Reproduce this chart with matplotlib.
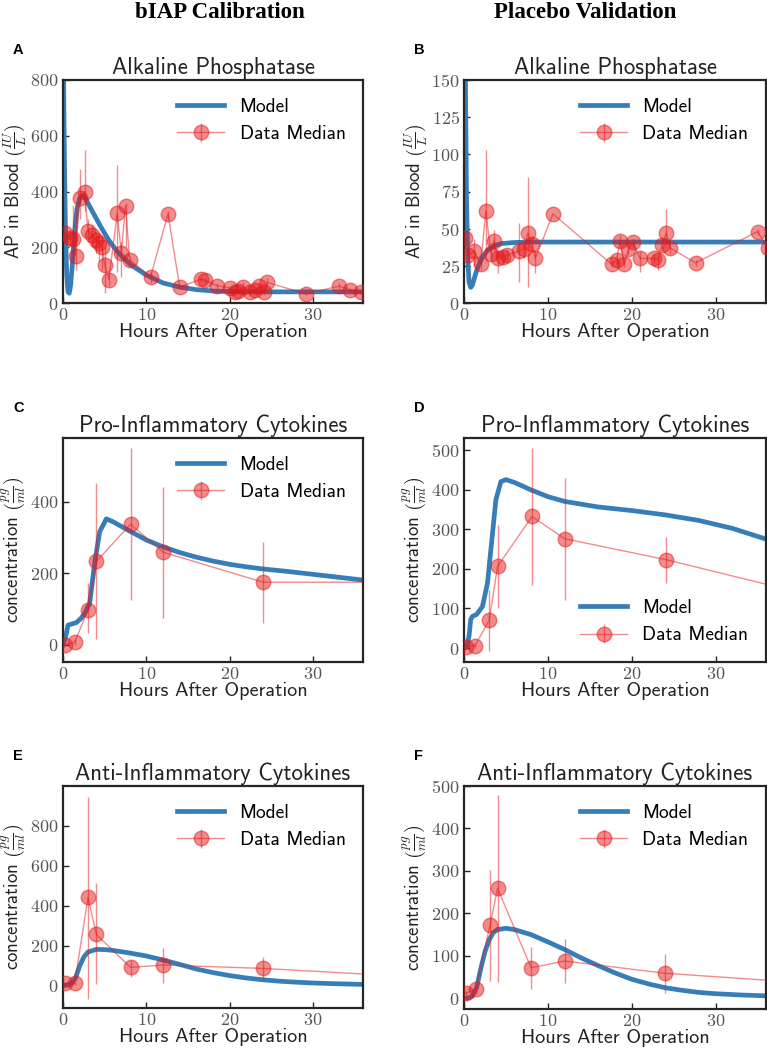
import numpy as np
import matplotlib
matplotlib.use('Agg')
import matplotlib.pyplot as plt

plt.rcParams['font.family'] = 'cmr10'
plt.rcParams['mathtext.fontset'] = 'cm'
plt.rcParams['axes.formatter.use_mathtext'] = True
plt.rcParams['axes.unicode_minus'] = False

BLUE = '#377eb8'
RED = '#e41a1c'
SANS = 'cmss10'

# ---- A: AP, bIAP calibration ----
a_t = [0.2, 0.8, 1.2, 1.5, 2.0, 2.6, 3.0, 3.5, 4.0, 4.3, 4.7, 5.0, 5.5, 6.5, 7.0, 7.5, 8.0,
       10.5, 12.6, 14.0, 16.6, 17.0, 18.5, 20.0, 20.6, 21.0, 21.6, 22.5, 23.1, 23.5, 24.1,
       24.5, 29.1, 33.1, 34.5, 35.7]
a_med = [250, 233, 228, 170, 376, 400, 259, 245, 227, 215, 200, 137, 84, 322, 179, 349, 155,
         93, 320, 57, 86, 81, 62, 54, 38, 42, 57, 38, 45, 60, 38, 74, 33, 60, 48, 38]
a_lo = [250, 205, 160, 120, 300, 330, 220, 200, 180, 150, 120, 35, 60, 110, 95, 200, 140,
        70, 300, 50, 75, 70, 50, 45, 30, 35, 40, 30, 35, 50, 30, 60, 28, 50, 40, 32]
a_hi = [250, 260, 350, 350, 480, 550, 300, 280, 260, 250, 240, 200, 110, 495, 220, 360, 170,
        110, 330, 65, 95, 90, 70, 60, 45, 50, 75, 45, 55, 70, 45, 90, 40, 70, 55, 45]
a_mt = [0, 0.1, 0.2, 0.3, 0.45, 0.6, 0.75, 0.9, 1.1, 1.3, 1.5, 1.7, 2.0, 2.3, 2.7, 3.5, 4.5,
        5.5, 6.5, 8, 10, 12, 14, 16, 18, 20, 25, 30, 36]
a_my = [1100, 700, 450, 250, 100, 40, 35, 60, 130, 220, 290, 340, 375, 385, 375, 330, 275,
        225, 185, 140, 100, 72, 57, 48, 43, 41, 40, 40, 40]

# ---- B: AP, placebo validation ----
b_t = [0.1, 0.5, 1.2, 2.0, 2.6, 3.2, 3.6, 4.0, 4.6, 5.1, 6.6, 7.1, 7.6, 8.1, 8.5, 10.6,
       17.6, 18.2, 18.6, 19.1, 19.6, 20.1, 21.0, 22.6, 23.1, 23.6, 24.1, 24.6, 27.6, 35.0, 36.2]
b_med = [44, 32, 35, 26, 62, 33, 42, 30, 31, 32, 35, 36, 47, 40, 30, 60,
         26, 29, 42, 26, 36, 41, 30, 30, 29, 39, 47, 37, 27, 48, 37]
b_lo = [44, 28, 25, 22, 30, 28, 35, 20, 27, 28, 14, 30, 11, 35, 20, 60,
        24, 26, 38, 24, 32, 38, 21, 27, 22, 35, 40, 33, 25, 46, 35]
b_hi = [44, 36, 43, 30, 103, 38, 49, 35, 35, 36, 54, 42, 85, 45, 35, 60,
        28, 32, 46, 28, 40, 44, 35, 33, 32, 43, 63, 41, 29, 50, 39]
b_mt = [0, 0.1, 0.2, 0.3, 0.45, 0.6, 0.8, 1.0, 1.3, 1.7, 2.2, 2.8, 3.5, 4.5, 6, 8, 20, 36]
b_my = [400, 200, 130, 70, 30, 14, 10.5, 12, 18, 25, 31, 35.5, 38.5, 40, 40.7, 41, 41, 41]

# ---- C: pro-inflammatory, calibration ----
c_t = [0.2, 1.4, 3.0, 4.0, 8.1, 12.0, 24.0, 48.0]
c_med = [0, 7, 98, 233, 337, 259, 175, 175]
c_lo = [0, 0, 33, 16, 126, 76, 62, 175]
c_hi = [0, 15, 172, 451, 549, 442, 288, 175]
c_mt = [0, 0.3, 0.6, 1.0, 1.6, 2.2, 2.6, 3.2, 3.8, 4.4, 5.2, 6.0, 8, 10, 12, 14, 16, 18, 20,
        22, 24, 27, 30, 33, 36]
c_my = [0, 20, 55, 58, 62, 75, 88, 116, 228, 316, 352, 344, 318, 293, 274, 258, 245, 234, 225,
        218, 212, 205, 197, 189, 181]

# ---- D: pro-inflammatory, validation ----
d_t = [0.2, 1.3, 3.0, 4.0, 8.1, 12.0, 24.1, 48.0]
d_med = [4, 6, 70, 206, 332, 276, 223, 99]
d_lo = [0, 0, -8, 101, 160, 122, 164, 99]
d_hi = [8, 12, 147, 311, 504, 429, 280, 99]
d_mt = [0, 0.3, 0.6, 0.8, 1.0, 1.5, 2.2, 2.8, 3.2, 3.8, 4.4, 5.0, 6, 8, 10, 12, 16, 20, 24, 28,
        32, 36]
d_my = [0, 2, 30, 72, 80, 85, 105, 164, 248, 374, 420, 425, 418, 399, 382, 370, 356, 347, 336,
        322, 302, 275]

# ---- E: anti-inflammatory, calibration ----
e_t = [0.2, 1.4, 3.0, 4.0, 8.1, 12.0, 24.0, 48.0]
e_med = [13, 13, 443, 258, 93, 105, 88, 32]
e_lo = [5, 5, -65, 10, 47, 17, 30, 32]
e_hi = [20, 20, 947, 513, 130, 188, 143, 32]
e_mt = [0, 0.5, 1.0, 1.5, 2.0, 2.5, 3, 4, 5, 6, 8, 10, 12, 14, 16, 18, 20, 22, 24, 26, 28, 30,
        33, 36]
e_my = [0, 5, 12, 40, 100, 145, 170, 183, 182, 178, 165, 150, 130, 108, 85, 67, 52, 40, 31, 24,
        19, 15, 11, 8]

# ---- F: anti-inflammatory, validation ----
f_t = [0.2, 1.4, 3.1, 4.0, 8.0, 12.0, 24.0, 48.0]
f_med = [12, 21, 172, 259, 72, 88, 59, 27]
f_lo = [5, 10, 41, 39, 21, 37, 13, 27]
f_hi = [18, 30, 303, 478, 122, 139, 104, 27]
f_mt = [0, 0.5, 1.0, 1.5, 2.0, 2.5, 3, 3.5, 4, 5, 6, 8, 10, 12, 14, 16, 18, 20, 22, 24, 26, 28,
        30, 33, 36]
f_my = [0, 1, 5, 25, 70, 110, 138, 155, 162, 165, 162, 150, 133, 115, 95, 77, 60, 45, 34, 25,
        19, 14, 11, 8, 6]

W, H = 767, 1052
fig = plt.figure(figsize=(W / 100, H / 100), dpi=100)

AP_LABEL = r'AP in Blood $\left(\frac{IU}{L}\right)$'
CONC_LABEL = r'concentration $\left(\frac{pg}{ml}\right)$'


def rect(left, top, right, bottom):
    return [left / W, 1 - bottom / H, (right - left) / W, (bottom - top) / H]


def panel(r, letter, title, t, med, lo, hi, mt, my, ylim, yticks, ylabel, loc='upper right'):
    ax = fig.add_axes(r)
    ax.plot(mt, my, color=BLUE, lw=3.4, label='Model', zorder=2)
    med = np.array(med, dtype=float)
    err = [med - np.array(lo), np.array(hi) - med]
    ax.errorbar(t, med, yerr=err, fmt='-o', color=RED, alpha=0.5, ms=10.5, lw=1,
                elinewidth=1, mec=RED, label='Data Median', zorder=3)
    ax.set_xlim(0, 36)
    ax.set_ylim(*ylim)
    ax.set_xticks([0, 10, 20, 30])
    ax.set_yticks(yticks)
    ax.tick_params(direction='in', length=4, width=1, color='#262626', pad=3, labelsize=13,
                   labelcolor='#555555', top=False, right=False)
    for s in ax.spines.values():
        s.set_color('#262626')
        s.set_linewidth(1.6)
    ax.set_title(title, fontfamily=SANS, fontsize=16.5, pad=4, color='#222222')
    ax.set_xlabel('Hours After Operation', fontfamily=SANS, fontsize=14.5, labelpad=0,
                  color='#222222')
    ax.set_ylabel(ylabel, fontfamily=SANS, fontsize=13.5, color='#222222')
    w_px = r[2] * W
    ax.yaxis.set_label_coords(-34 / w_px, 0.5)
    ax.legend(loc=loc, frameon=False, prop={'family': SANS, 'size': 14}, handlelength=2.4,
              labelspacing=0.5)
    pos = ax.get_position()
    fig.text(pos.x0 - 50 / W, pos.y1 + 23 / H, letter, fontfamily='Liberation Sans',
             fontweight='bold', fontsize=10.5, ha='left', va='bottom')
    return ax


panel(rect(63, 80, 363, 303), 'A', 'Alkaline Phosphatase', a_t, a_med, a_lo, a_hi, a_mt, a_my,
      (0, 800), [0, 200, 400, 600, 800], AP_LABEL)
panel(rect(464, 80, 766, 303), 'B', 'Alkaline Phosphatase', b_t, b_med, b_lo, b_hi, b_mt, b_my,
      (0, 150), [0, 25, 50, 75, 100, 125, 150], AP_LABEL)
panel(rect(63, 438, 363, 662), 'C', 'Pro-Inflammatory Cytokines', c_t, c_med, c_lo, c_hi, c_mt,
      c_my, (-48, 578), [0, 200, 400], CONC_LABEL)
panel(rect(464, 438, 766, 662), 'D', 'Pro-Inflammatory Cytokines', d_t, d_med, d_lo, d_hi, d_mt,
      d_my, (-35, 530), [0, 100, 200, 300, 400, 500], CONC_LABEL, loc='lower right')
panel(rect(63, 786, 363, 1008), 'E', 'Anti-Inflammatory Cytokines', e_t, e_med, e_lo, e_hi, e_mt,
      e_my, (-110, 1000), [0, 200, 400, 600, 800], CONC_LABEL)
panel(rect(464, 786, 766, 1009), 'F', 'Anti-Inflammatory Cytokines', f_t, f_med, f_lo, f_hi,
      f_mt, f_my, (-25, 500), [0, 100, 200, 300, 400, 500], CONC_LABEL)

fig.text(220 / W, 1 - 12 / H, 'bIAP Calibration', fontfamily='Liberation Serif',
         fontweight='bold', fontsize=16.5, ha='center', va='center')
fig.text(585 / W, 1 - 12 / H, 'Placebo Validation', fontfamily='Liberation Serif',
         fontweight='bold', fontsize=16.5, ha='center', va='center')

fig.savefig('out.png', dpi=100)
